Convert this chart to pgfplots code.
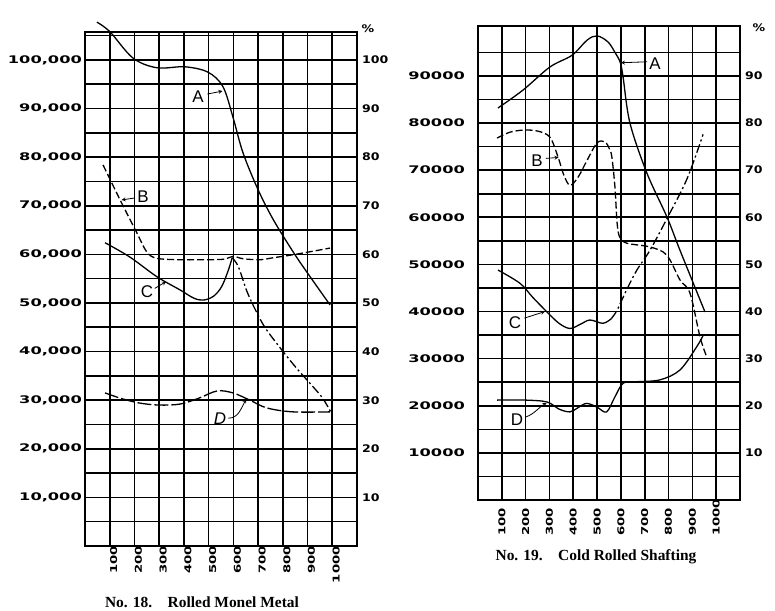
\documentclass[border=0pt]{standalone}
\usepackage{fontspec}
\setmainfont{Liberation Serif}
\usepackage{pgfplots}
\pgfplotsset{compat=1.18}
\usepackage{graphicx}
\newfontfamily\hand{DejaVu Sans}
\newfontfamily\lett{Liberation Sans}
\newcommand\tk[1]{\scalebox{1.55}[1]{\hand\bfseries\fontsize{10.5}{12}\selectfont #1}}
\newcommand\tp[1]{\scalebox{1.2}[1]{\hand\bfseries\fontsize{10.5}{12}\selectfont #1}}
\newcommand\tx[1]{\scalebox{1.4}[1]{\hand\bfseries\fontsize{9.5}{11}\selectfont #1}}
\newcommand\lt[1]{{\lett\fontsize{17}{18}\selectfont #1}}
\pgfplotsset{
  chart/.style={scale only axis, xmin=0, xmax=1100, ymin=0,
    scaled y ticks=false, scaled x ticks=false,
    xtick={100,200,...,1000}, grid=both,
    major grid style={black, line width=1.6bp},
    minor grid style={black, line width=1.6bp},
    axis line style={line width=2.6bp},
    major tick length=0pt, minor tick length=0pt},
  pct/.style={scale only axis, xmin=0, xmax=1100, ymin=0,
    axis x line=none, axis y line*=right, axis line style={draw=none},
    major tick length=0pt,
    yticklabel style={anchor=west, inner sep=0pt, xshift=5bp}},
  curve/.style={black, line width=1.3bp, smooth, tension=0.55, no marks},
}
\begin{document}
\begin{tikzpicture}
\path[use as bounding box] (0,0) rectangle (775bp,611bp);
% ---------------- Left chart: No. 18 ----------------
\begin{axis}[chart, at={(85bp,65bp)}, anchor=south west,
  width=272bp, height=514bp, ymax=105760, clip=false,
  ytick={10000,20000,...,100000}, minor ytick={5000,15000,...,105000},
  yticklabels={\tk{10,000},\tk{20,000},\tk{30,000},\tk{40,000},\tk{50,000},\tk{60,000},\tk{70,000},\tk{80,000},\tk{90,000},\tk{100,000}},
  yticklabel style={anchor=east, inner sep=0pt, xshift=-3bp},
  xticklabels={\tx{100},\tx{200},\tx{300},\tx{400},\tx{500},\tx{600},\tx{700},\tx{800},\tx{900},\tx{1000}},
  xticklabel style={rotate=90, anchor=east, inner sep=0pt, yshift=-4bp}]
% A
\addplot[curve] coordinates {(48,107800)(101,105800)(194,100400)(291,98400)(404,98600)(497,97500)(558,94500)(598,88300)(639,80900)(700,73300)(762,67100)(842,60500)(898,56300)(991,49600)};
% B
\addplot[curve, dash pattern=on 7bp off 3bp] coordinates {(73,78400)(142,71200)(210,64400)(250,60500)(290,59200)(380,58900)(465,58900)(560,59000)(598,59600)(640,59100)(708,58900)(760,59300)(850,60000)(991,61300)};
% C solid part
\addplot[curve] coordinates {(81,62400)(180,59500)(291,55400)(384,52700)(440,51000)(479,50600)(520,51400)(553,53400)(580,56800)(595,59300)};
% C dashed part
\addplot[curve, dash pattern=on 9bp off 3bp on 2bp off 3bp] coordinates {(595,59300)(620,57500)(654,52500)(690,48500)(730,44800)(801,40000)(857,36500)(918,33000)(960,30500)(995,27500)};
% D
\addplot[curve, dash pattern=on 14bp off 3bp] coordinates {(81,31500)(150,30300)(222,29400)(300,29000)(384,29200)(460,30400)(534,31900)(598,31500)(667,30000)(736,28400)(841,27600)(991,27600)};
% labels
\node at (axis cs:457,92400) {\lt{A}};
\draw[-stealth, line width=0.8bp] (axis cs:495,93000) -- (axis cs:556,93600);
\node at (axis cs:235,71800) {\lt{B}};
\draw[-stealth, line width=0.8bp] (axis cs:200,71600) -- (axis cs:148,71200);
\node at (axis cs:251,52300) {\lt{C}};
\draw[-stealth, line width=0.8bp] (axis cs:282,53000) -- (axis cs:328,54400);
\node at (axis cs:546,26300) {\lt{\itshape D}};
\draw[-stealth, line width=0.8bp] (axis cs:580,26300) to[out=0, in=-120] (axis cs:652,30200);
\end{axis}
\begin{axis}[pct, at={(85bp,65bp)}, anchor=south west,
  width=272bp, height=514bp, ymax=105.76,
  ytick={10,20,...,100},
  yticklabels={\tp{10},\tp{20},\tp{30},\tp{40},\tp{50},\tp{60},\tp{70},\tp{80},\tp{90},\tp{100}}]
\end{axis}
\node at (368bp,582bp) {\tp{\%}};
% ---------------- Right chart: No. 19 ----------------
\begin{axis}[chart, at={(478bp,111bp)}, anchor=south west,
  width=262bp, height=474bp, ymax=100600,
  ytick={10000,20000,...,90000}, minor ytick={5000,15000,...,95000},
  yticklabels={\tk{10000},\tk{20000},\tk{30000},\tk{40000},\tk{50000},\tk{60000},\tk{70000},\tk{80000},\tk{90000}},
  yticklabel style={anchor=east, inner sep=0pt, xshift=-13bp},
  xticklabels={\tx{100},\tx{200},\tx{300},\tx{400},\tx{500},\tx{600},\tx{700},\tx{800},\tx{900},\tx{1000}},
  xticklabel style={rotate=90, anchor=west, inner sep=0pt},
  xticklabel shift=36bp]
% A
\addplot[curve] coordinates {(84,83200)(189,87000)(302,91900)(395,94400)(458,97600)(500,98500)(546,97200)(575,95000)(597,92900)(609,89800)(638,80000)(709,69400)(793,60100)(848,53000)(953,39900)};
% B
\addplot[curve, dash pattern=on 7bp off 3bp] coordinates {(80,76800)(130,78000)(189,78500)(250,78300)(302,77000)(336,72800)(360,69000)(386,66800)(420,68500)(458,72100)(500,75800)(533,76000)(552,74500)(562,72800)(575,66400)(584,58800)(595,55800)(625,54500)(722,53700)(792,52000)(848,46700)(890,43900)(932,34650)(960,30400)};
% C solid part
\addplot[curve] coordinates {(84,48800)(176,46000)(230,43000)(288,40000)(340,37500)(386,36400)(430,37300)(470,38200)(525,37500)(560,38500)};
% C dash-dot part
\addplot[curve, dash pattern=on 9bp off 3bp on 2bp off 3bp] coordinates {(560,38500)(584,40300)(624,44600)(667,48800)(722,53000)(793,59700)(877,68100)(945,77600)};
% D
\addplot[curve] coordinates {(80,21200)(200,21200)(290,20800)(340,19300)(386,18700)(420,19600)(456,20500)(500,19700)(540,18700)(575,21900)(610,24800)(666,25100)(764,25500)(848,27600)(918,32500)(946,35000)};
% labels
\node at (axis cs:743,92700) {\lt{A}};
\draw[-stealth, line width=0.8bp] (axis cs:710,93000) -- (axis cs:600,92800);
\node at (axis cs:248,72100) {\lt{B}};
\draw[-stealth, line width=0.8bp] (axis cs:285,72500) -- (axis cs:338,72700);
\node at (axis cs:155,37600) {\lt{C}};
\draw[-stealth, line width=0.8bp] (axis cs:195,38600) -- (axis cs:281,40000);
\node at (axis cs:164,17000) {\lt{D}};
\draw[-stealth, line width=0.8bp] (axis cs:200,17600) to[out=20, in=-150] (axis cs:288,20600);
\end{axis}
\begin{axis}[pct, at={(478bp,111bp)}, anchor=south west,
  width=262bp, height=474bp, ymax=100.6,
  ytick={10,20,...,90},
  yticklabels={\tp{10},\tp{20},\tp{30},\tp{40},\tp{50},\tp{60},\tp{70},\tp{80},\tp{90}}]
\end{axis}
\node at (759bp,583bp) {\tp{\%}};
% captions
\node[font=\bfseries\fontsize{15.5}{17}\selectfont] at (202bp,9bp) {No. 18.\quad Rolled Monel Metal};
\node[font=\bfseries\fontsize{15.5}{17}\selectfont] at (596bp,54bp) {No. 19.\quad Cold Rolled Shafting};
\end{tikzpicture}
\end{document}
